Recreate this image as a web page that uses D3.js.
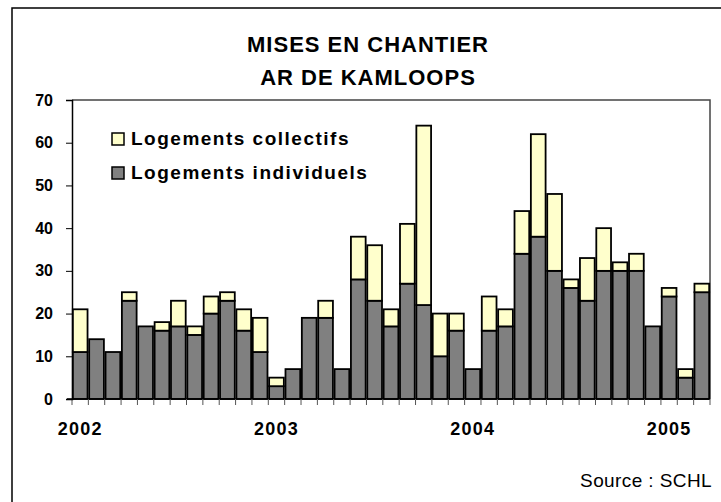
<!DOCTYPE html>
<html>
<head>
<meta charset="utf-8">
<script src="https://cdn.jsdelivr.net/npm/d3@7"></script>
<style>
  body { margin: 0; background: #fff; }
  text { font-family: "Liberation Sans", Arial, sans-serif; }
</style>
</head>
<body>
<div id="chart"></div>
<script>
let width = 721
let height = 502

// monthly starts, Jan 2002 - Mar 2005
let months = d3.range(39).map(i => i)
let individuels = [
  11, 14, 11, 23, 17, 16, 17, 15, 20, 23, 16, 11,
  3, 7, 19, 19, 7, 28, 23, 17, 27, 22, 10, 16,
  7, 16, 17, 34, 38, 30, 26, 23, 30, 30, 30, 17,
  24, 5, 25
]
let collectifs = [
  10, 0, 0, 2, 0, 2, 6, 2, 4, 2, 5, 8,
  2, 0, 0, 4, 0, 10, 13, 4, 14, 42, 10, 4,
  0, 8, 4, 10, 24, 18, 2, 10, 10, 2, 4, 0,
  2, 2, 2
]
let yearLabels = ["2002", "2003", "2004", "2005"]
let yTicks = [0, 10, 20, 30, 40, 50, 60, 70]
let seriesNames = ["Logements collectifs", "Logements individuels"]
let colors = {ind: "#808080", col: "#ffffcc"}

let margin = {top: 100, right: 11, bottom: 103, left: 72}
let graphWidth = width - margin.left - margin.right
let graphHeight = height - margin.top - margin.bottom

let svg = d3.select("#chart")
  .append("svg")
  .attr("width", width)
  .attr("height", height)

// outer frame (runs off the canvas on right and bottom)
svg.append("rect")
  .attr("x", 12).attr("y", 8)
  .attr("width", 740).attr("height", 540)
  .attr("fill", "none")
  .attr("stroke", "#000")
  .attr("stroke-width", 1.5)

// title
let titleLines = ["MISES EN CHANTIER", "AR DE KAMLOOPS"]
svg.selectAll("text.title")
  .data(titleLines)
  .enter()
  .append("text")
  .attr("class", "title")
  .attr("x", 368)
  .attr("y", (d, i) => 52 + i * 33)
  .attr("text-anchor", "middle")
  .attr("font-size", 22).attr("font-weight", "bold")
  .attr("letter-spacing", 1)
  .text(d => d)

let graph = svg.append("g")
  .attr("transform", `translate(${margin.left},${margin.top})`)

let x = d3.scaleBand()
  .domain(months)
  .range([0, graphWidth])
  .paddingInner(0.1)
  .paddingOuter(0.05)

let y = d3.scaleLinear()
  .domain([0, 70])
  .range([graphHeight, 0])

// plot frame (top + right in gray)
graph.append("path")
  .attr("d", `M0,0H${graphWidth}V${graphHeight}`)
  .attr("fill", "none")
  .attr("stroke", "#444")
  .attr("stroke-width", 1.5)

let stackData = months.map(i => ({i: i, ind: individuels[i], col: collectifs[i]}))
let stack = d3.stack().keys(["ind", "col"])(stackData)

graph.selectAll("g.layer")
  .data(stack)
  .enter()
  .append("g")
  .attr("class", "layer")
  .attr("fill", d => colors[d.key])
  .selectAll("rect")
  .data(d => d.filter(s => s[1] > s[0]))
  .enter()
  .append("rect")
  .attr("x", d => x(d.data.i))
  .attr("width", x.bandwidth())
  .attr("y", d => y(d[1]))
  .attr("height", d => y(d[0]) - y(d[1]))
  .attr("stroke", "#000")
  .attr("stroke-width", 1.8)

// X axis: ticks at band boundaries
let step = x.step()
let xAxisG = graph.append("g")
  .attr("transform", `translate(0,${graphHeight})`)
xAxisG.append("line")
  .attr("x1", -5).attr("x2", graphWidth)
  .attr("stroke", "#000").attr("stroke-width", 1.5)
xAxisG.selectAll("line.tick")
  .data(d3.range(40))
  .enter()
  .append("line")
  .attr("class", "tick")
  .attr("x1", i => Math.min(i * step, graphWidth))
  .attr("x2", i => Math.min(i * step, graphWidth))
  .attr("y1", 0).attr("y2", 6)
  .attr("stroke", "#555")
xAxisG.selectAll("text")
  .data(yearLabels)
  .enter()
  .append("text")
  .attr("x", (d, i) => x(i * 12) + x.bandwidth() / 2)
  .attr("y", 36)
  .attr("text-anchor", "middle")
  .attr("font-size", 18).attr("font-weight", "bold")
  .attr("letter-spacing", 1.2)
  .text(d => d)

// Y axis
let yAxis = d3.axisLeft(y).tickValues(yTicks).tickSize(6).tickPadding(13)
let yAxisG = graph.append("g").call(yAxis)
yAxisG.select(".domain").attr("stroke", "#000").attr("stroke-width", 1.5)
yAxisG.selectAll(".tick line").attr("stroke", "#000")
yAxisG.selectAll(".tick text")
  .attr("font-size", 16).attr("font-weight", "bold")
  .attr("fill", "#000")
  .attr("font-family", "Liberation Sans, Arial, sans-serif")

// legend
let legend = svg.append("g").attr("transform", "translate(112,133)")
let legendColors = [colors.col, colors.ind]
seriesNames.forEach((name, i) => {
  legend.append("rect")
    .attr("x", 0).attr("y", i * 34)
    .attr("width", 12).attr("height", 12)
    .attr("fill", legendColors[i])
    .attr("stroke", "#000").attr("stroke-width", 1.5)
  legend.append("text")
    .attr("x", 19).attr("y", i * 34 + 12)
    .attr("font-size", 19).attr("font-weight", "bold")
    .attr("letter-spacing", 1.5)
    .text(name)
})

// source
svg.append("text")
  .attr("x", 712).attr("y", 487)
  .attr("text-anchor", "end")
  .attr("font-size", 19)
  .attr("letter-spacing", 0.4)
  .text("Source : SCHL")
</script>
</body>
</html>
